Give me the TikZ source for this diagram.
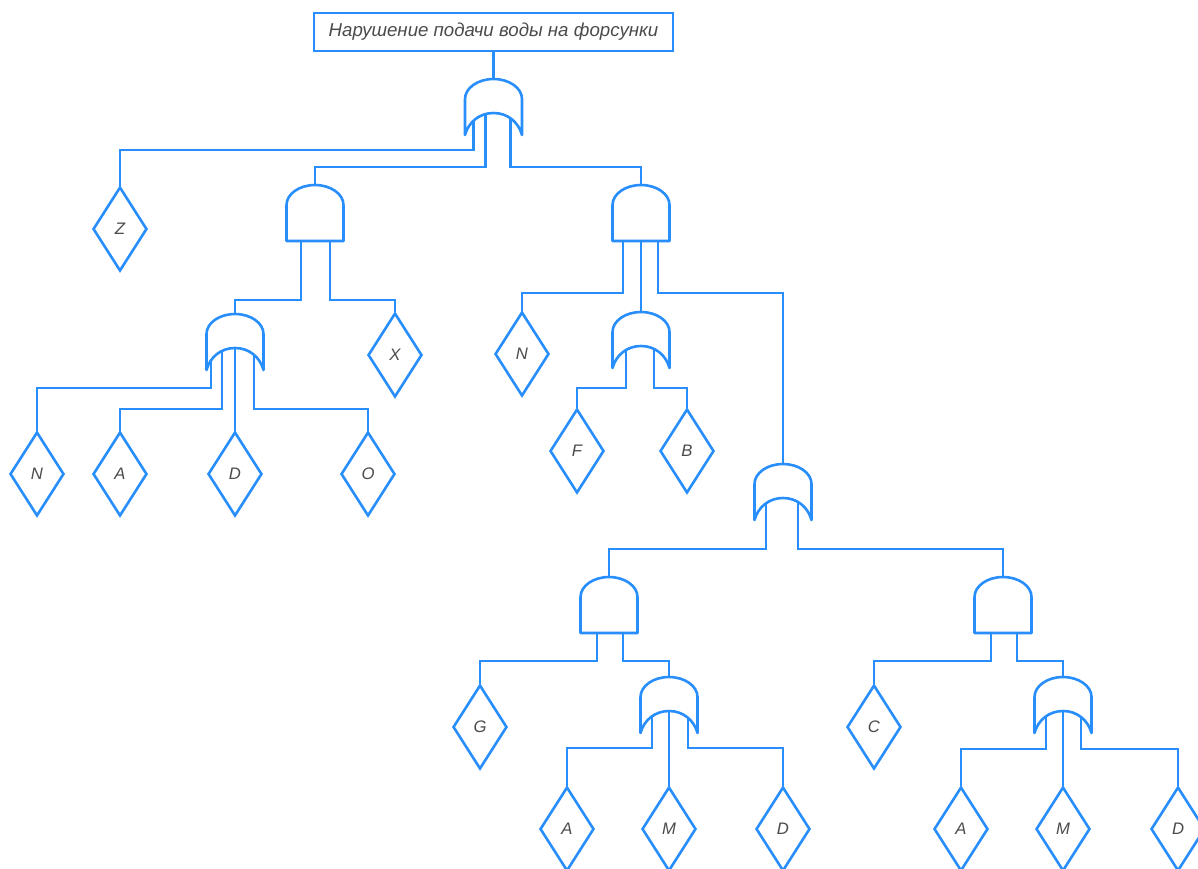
\documentclass[tikz,border=0pt]{standalone}
\usepackage{fontspec}
\setmainfont{Liberation Sans}
\usepackage{xcolor}
\usetikzlibrary{calc,shapes.geometric,backgrounds}

\definecolor{treeblue}{RGB}{40,142,252}
\definecolor{textgray}{RGB}{75,75,75}

\begin{document}
\begin{tikzpicture}[x=0.75pt,y=-0.75pt,
  link/.style={draw=treeblue,line width=1.95pt},
  gatebody/.style={draw=treeblue,line width=1.95pt,fill=white,line join=round},
  event/.style={diamond,draw=treeblue,line width=1.95pt,fill=white,inner sep=0pt,
    minimum width=40.5pt,minimum height=63pt,text=textgray,
    font=\fontsize{12.5}{14}\selectfont\itshape},
  topbox/.style={rectangle,draw=treeblue,line width=1.95pt,inner sep=0pt,
    minimum width=269pt,minimum height=28.5pt,text=textgray,
    font=\fontsize{14}{16}\selectfont\itshape},
  orgate/.pic={
    \draw[gatebody] (-28.5,56) -- (-28.5,20) .. controls (-28.5,9) and (-15.7,0) .. (0,0)
      .. controls (15.7,0) and (28.5,9) .. (28.5,20) -- (28.5,56)
      .. controls (25,43) and (14,34) .. (0,34)
      .. controls (-14,34) and (-25,43) .. (-28.5,56) -- cycle;
    \coordinate (-top) at (0,0);
    \coordinate (-in) at (0,34);
  },
  andgate/.pic={
    \draw[gatebody] (-28.5,56) -- (-28.5,20) .. controls (-28.5,9) and (-15.7,0) .. (0,0)
      .. controls (15.7,0) and (28.5,9) .. (28.5,20) -- (28.5,56) -- cycle;
    \coordinate (-top) at (0,0);
    \coordinate (-in) at (0,56);
  }]
\useasboundingbox (0,0) rectangle (1198,868);

%top event
\node[topbox] (top) at (493.5,32) {Нарушение подачи воды на форсунки};

%gates
\pic (g0) at (493.5,79) {orgate};
\pic (g1) at (315,185) {andgate};
\pic (g2) at (641,185) {andgate};
\pic (g3) at (235,314) {orgate};
\pic (g4) at (641,312) {orgate};
\pic (g5) at (783,464) {orgate};
\pic (g6) at (609,577) {andgate};
\pic (g7) at (1003,577) {andgate};
\pic (g8) at (669,677) {orgate};
\pic (g9) at (1063,677) {orgate};

%basic events
\foreach \nm/\pos/\txt in {Z/{120,229}/Z, X/{395,355}/X,
  N1/{37,474}/N, A1/{120,474}/A, D1/{235,474}/D, O1/{368,474}/O,
  N2/{522,354}/N, F1/{577,451}/F, B1/{687,451}/B,
  G1/{480,727}/G, C1/{874,727}/C,
  A2/{567,829}/A, M1/{669,829}/M, D2/{783,829}/D,
  A3/{961,829}/A, M2/{1063,829}/M, D3/{1178,829}/D}
\node[event] (\nm) at (\pos) {\txt};

\begin{scope}[on background layer]
%top
\draw[link] (top) -- (g0-top);
%g0
\draw[link] ($(g0-in)+(-20,0)$) -- ++(0,37) -| (Z.north);
\draw[link] ($(g0-in)+(-8,0)$) -- ++(0,54) -| (g1-top);
\draw[link] ($(g0-in)+(17,0)$) -- ++(0,54) -| (g2-top);
%g1
\draw[link] ($(g1-in)+(-14,0)$) -- ++(0,59) -| (g3-top);
\draw[link] ($(g1-in)+(15,0)$) -- ++(0,59) -| (X.north);
%g3
\draw[link] ($(g3-in)+(-24,0)$) -- ++(0,40) -| (N1.north);
\draw[link] ($(g3-in)+(-13,0)$) -- ++(0,61) -| (A1.north);
\draw[link] (g3-in) -- (D1.north);
\draw[link] ($(g3-in)+(19,0)$) -- ++(0,61) -| (O1.north);
%g2
\draw[link] ($(g2-in)+(-18,0)$) -- ++(0,52) -| (N2.north);
\draw[link] (g2-in) -- (g4-top);
\draw[link] ($(g2-in)+(17,0)$) -- ++(0,52) -| (g5-top);
%g4
\draw[link] ($(g4-in)+(-15,0)$) -- ++(0,42) -| (F1.north);
\draw[link] ($(g4-in)+(13,0)$) -- ++(0,42) -| (B1.north);
%g5
\draw[link] ($(g5-in)+(-17,0)$) -- ++(0,51) -| (g6-top);
\draw[link] ($(g5-in)+(15,0)$) -- ++(0,51) -| (g7-top);
%g6
\draw[link] ($(g6-in)+(-12,0)$) -- ++(0,28) -| (G1.north);
\draw[link] ($(g6-in)+(14,0)$) -- ++(0,28) -| (g8-top);
%g8
\draw[link] ($(g8-in)+(-17,0)$) -- ++(0,37) -| (A2.north);
\draw[link] (g8-in) -- (M1.north);
\draw[link] ($(g8-in)+(19,0)$) -- ++(0,37) -| (D2.north);
%g7
\draw[link] ($(g7-in)+(-12,0)$) -- ++(0,28) -| (C1.north);
\draw[link] ($(g7-in)+(14,0)$) -- ++(0,28) -| (g9-top);
%g9
\draw[link] ($(g9-in)+(-17,0)$) -- ++(0,38) -| (A3.north);
\draw[link] (g9-in) -- (M2.north);
\draw[link] ($(g9-in)+(18,0)$) -- ++(0,38) -| (D3.north);
\end{scope}
\end{tikzpicture}
\end{document}
